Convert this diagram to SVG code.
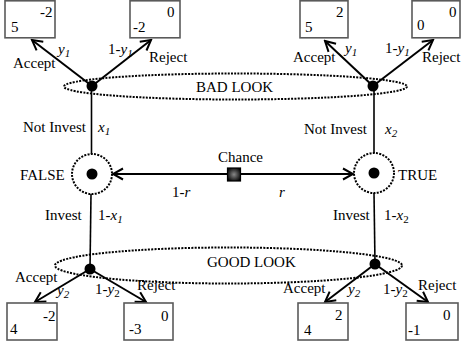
<svg xmlns="http://www.w3.org/2000/svg" width="462" height="351" viewBox="0 0 462 351" font-family="'Liberation Serif', 'DejaVu Serif', serif" font-size="15">
<style>
text{font-family:'Liberation Serif','DejaVu Serif',serif;font-size:15px;fill:#000}
.it{font-style:italic}
.sub{font-size:11px}
.box{fill:#fff;stroke:#5a5a5a;stroke-width:1.6}
.arr{stroke:#000;stroke-width:2;fill:none;marker-end:url(#ah)}
.ln{stroke:#000;stroke-width:1.6;fill:none}
.dot{fill:#000}
.dotted{fill:none;stroke:#000;stroke-width:2;stroke-dasharray:2 1.3}
</style>
<defs>
<marker id="ah" viewBox="-12 -7 14 14" refX="0" refY="0" markerWidth="14" markerHeight="14" markerUnits="userSpaceOnUse" orient="auto">
<path d="M-10,-5.5 L0,0 L-10,5.5" fill="none" stroke="#000" stroke-width="2"/>
</marker>
<radialGradient id="sq" cx="0.5" cy="0.5" r="0.6">
<stop offset="0" stop-color="#888"/>
<stop offset="1" stop-color="#000"/>
</radialGradient>
</defs>

<g id="info-sets">
<ellipse class="dotted" cx="235.5" cy="86.5" rx="171.5" ry="13"/>
<text x="196" y="92">BAD LOOK</text>
<ellipse class="dotted" cx="228.5" cy="265.5" rx="173.5" ry="18"/>
<text x="207" y="267">GOOD LOOK</text>
</g>

<g id="connectors">
<line class="ln" x1="91.5" y1="86" x2="91.5" y2="154"/>
<line class="ln" x1="91" y1="194" x2="90" y2="269"/>
<line class="ln" x1="374" y1="86" x2="374" y2="153"/>
<line class="ln" x1="374" y1="193" x2="375" y2="264"/>
<line class="arr" x1="92" y1="86" x2="32" y2="40"/>
<line class="arr" x1="92" y1="86" x2="151" y2="40"/>
<line class="arr" x1="373" y1="86" x2="325" y2="41"/>
<line class="arr" x1="373" y1="86" x2="433" y2="40"/>
<line class="arr" x1="90" y1="269" x2="35" y2="302"/>
<line class="arr" x1="90" y1="269" x2="146" y2="302"/>
<line class="arr" x1="375" y1="264" x2="325" y2="302"/>
<line class="arr" x1="375" y1="264" x2="428" y2="302"/>
<line class="arr" x1="228" y1="174" x2="113" y2="174"/>
<line class="arr" x1="240" y1="174" x2="353" y2="174"/>
</g>

<g id="chance">
<rect x="227.5" y="168" width="13" height="13" fill="url(#sq)" stroke="#000" stroke-width="1.2"/>
<text x="218" y="162">Chance</text>
<text x="172" y="197">1-<tspan class="it">r</tspan></text>
<text x="279" y="197" class="it">r</text>
</g>

<g id="false">
<circle class="dotted" cx="92" cy="174" r="20"/>
<circle class="dot" cx="92" cy="174" r="5.5"/>
<text x="20" y="180">FALSE</text>
<text x="23" y="132">Not Invest</text>
<text x="98" y="132" class="it">x<tspan class="sub" dy="3">1</tspan></text>
<text x="45" y="220">Invest</text>
<text x="98" y="220">1-<tspan class="it">x</tspan><tspan class="sub it" dy="3">1</tspan></text>
</g>

<g id="true">
<circle class="dotted" cx="374" cy="173" r="20"/>
<circle class="dot" cx="374" cy="173" r="5.5"/>
<text x="398" y="180">TRUE</text>
<text x="304" y="134">Not Invest</text>
<text x="385" y="134" class="it">x<tspan class="sub" dy="3">2</tspan></text>
<text x="333" y="220">Invest</text>
<text x="384" y="220">1-<tspan class="it">x</tspan><tspan class="sub" dy="3">2</tspan></text>
</g>

<g id="bad-false">
<circle class="dot" cx="92" cy="86" r="5.5"/>
<text x="13" y="68">Accept</text>
<text x="58" y="54" class="it">y<tspan class="sub" dy="3">1</tspan></text>
<text x="108" y="54">1-<tspan class="it">y</tspan><tspan class="sub it" dy="3">1</tspan></text>
<text x="149" y="62">Reject</text>
</g>

<g id="bad-true">
<circle class="dot" cx="373" cy="86" r="5.5"/>
<text x="293" y="62">Accept</text>
<text x="345" y="53" class="it">y<tspan class="sub" dy="3">1</tspan></text>
<text x="385" y="53">1-<tspan class="it">y</tspan><tspan class="sub it" dy="3">1</tspan></text>
<text x="422" y="62">Reject</text>
</g>

<g id="good-false">
<circle class="dot" cx="90" cy="269" r="5.5"/>
<text x="15" y="282">Accept</text>
<text x="57" y="295" class="it">y<tspan class="sub" dy="3">2</tspan></text>
<text x="95" y="294">1-<tspan class="it">y</tspan><tspan class="sub" dy="3">2</tspan></text>
<text x="137" y="290">Reject</text>
</g>

<g id="good-true">
<circle class="dot" cx="375" cy="264" r="5.5"/>
<text x="283" y="293">Accept</text>
<text x="348" y="294" class="it">y<tspan class="sub" dy="3">2</tspan></text>
<text x="383" y="294">1-<tspan class="it">y</tspan><tspan class="sub" dy="3">2</tspan></text>
<text x="418" y="290">Reject</text>
</g>

<g id="payoff-1">
<rect class="box" x="5" y="0.8" width="50" height="37"/>
<text x="40" y="17">-2</text>
<text x="11" y="32">5</text>
</g>
<g id="payoff-2">
<rect class="box" x="130" y="0.8" width="50" height="37"/>
<text x="167" y="17">0</text>
<text x="133" y="32">-2</text>
</g>
<g id="payoff-3">
<rect class="box" x="300" y="0.8" width="48" height="37"/>
<text x="336" y="17">2</text>
<text x="305" y="32">5</text>
</g>
<g id="payoff-4">
<rect class="box" x="412" y="0.8" width="48" height="37"/>
<text x="449" y="17">0</text>
<text x="417" y="30">0</text>
</g>
<g id="payoff-5">
<rect class="box" x="7" y="303" width="50" height="37"/>
<text x="43" y="321">-2</text>
<text x="10" y="334">4</text>
</g>
<g id="payoff-6">
<rect class="box" x="124" y="303" width="49" height="37"/>
<text x="161" y="321">0</text>
<text x="129" y="334">-3</text>
</g>
<g id="payoff-7">
<rect class="box" x="298" y="303" width="50" height="37"/>
<text x="335" y="320">2</text>
<text x="304" y="335">4</text>
</g>
<g id="payoff-8">
<rect class="box" x="406" y="303" width="52" height="37"/>
<text x="443" y="320">0</text>
<text x="408" y="335">-1</text>
</g>
</svg>
